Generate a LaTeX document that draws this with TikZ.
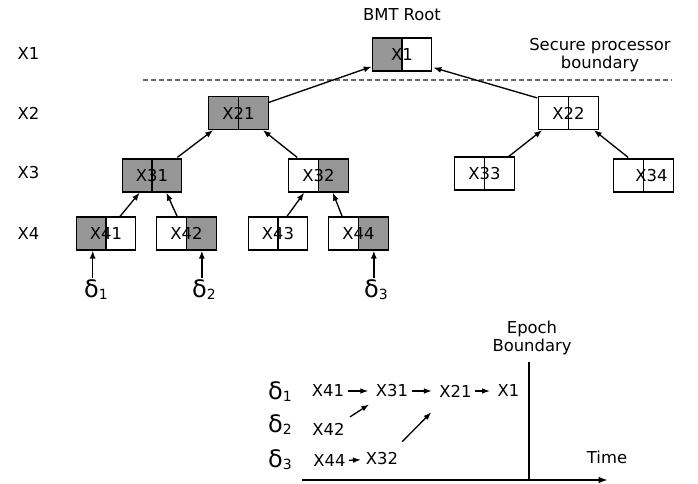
\documentclass[tikz,border=0pt]{standalone}
\usepackage{fontspec}
\setmainfont{DejaVu Sans}
\usepackage{tikz}
\usetikzlibrary{arrows.meta}
\definecolor{boxgray}{RGB}{150,150,150}
\definecolor{dashgray}{RGB}{105,105,105}

\tikzset{
  txt/.style={font=\fontsize{12.3}{14}\selectfont, inner sep=1.5pt},
  box/.style={draw, line width=0.9pt, minimum width=44.6pt, minimum height=24.75pt, inner sep=0pt, txt},
  divline/.style={line width=0.9pt},
  splitbox/.style={box, path picture={\draw[divline] (path picture bounding box.south) -- (path picture bounding box.north);}},
  lgray/.style={box, path picture={\fill[boxgray] (path picture bounding box.south west) rectangle (path picture bounding box.north);
      \draw[divline] (path picture bounding box.south) -- (path picture bounding box.north);}},
  rgray/.style={box, path picture={\fill[boxgray] (path picture bounding box.south) rectangle (path picture bounding box.north east);
      \draw[divline] (path picture bounding box.south) -- (path picture bounding box.north);}},
  bgray/.style={box, fill=boxgray, path picture={\draw[divline] (path picture bounding box.south) -- (path picture bounding box.north);}},
  arr/.style={-{Latex[length=6pt,width=4.5pt]}, line width=1pt},
  sarr/.style={-{Latex[length=6pt,width=4.2pt]}, line width=1pt, shorten >=4pt, shorten <=1pt},
  delta/.style={font=\fontsize{18}{20}\selectfont, inner sep=1pt}
}
\newcommand{\dsub}[1]{δ\raisebox{-0.15ex}{\fontsize{10.5}{12}\selectfont #1}}

\begin{document}
\begin{tikzpicture}[x=0.75pt,y=-0.75pt]
\useasboundingbox (0,0) rectangle (698,483);

% level labels
\node[txt] (L1) at (28.5,54) {X1};
\node[txt] (L2) at (28.5,113) {X2};
\node[txt] (L3) at (28.5,173) {X3};
\node[txt] (L4) at (28.5,234) {X4};

% processor boundary
\draw[dashgray, line width=1.2pt, dash pattern=on 3.75pt off 2.25pt] (143,80) -- (672,80);
\node[txt] (root) at (402,15) {BMT Root};
\node[txt, align=center] (spb) at (600,55) {Secure processor\\boundary};

% tree nodes
\node[lgray] (X1) at (402,54.5) {X1};
\node[bgray] (X21) at (238.5,113) {X21};
\node[splitbox] (X22) at (568.5,113) {X22};
\node[bgray] (X31) at (152,175.5) {X31};
\node[rgray] (X32) at (318.5,175.5) {X32};
\node[splitbox] (X33) at (484.5,173.5) {X33};
\node[splitbox] (X34) at (643.5,175.5) {\hspace*{12pt}X34};
\node[lgray] (X41) at (106,233.5) {X41};
\node[rgray] (X42) at (186.5,233.5) {\raisebox{-3pt}{X42}};
\node[splitbox] (X43) at (278,233.5) {X43};
\node[rgray] (X44) at (358.5,233.5) {X44};

% tree edges
\draw[arr] ([shift={(0,6.5)}]X21.north east) -- ([shift={(0,-5)}]X1.south west);
\draw[arr] ([shift={(-1,2)}]X22.north west) -- ([shift={(1,-4)}]X1.south east);
\draw[arr] ([shift={(-5,-1)}]X31.north east) -- ([shift={(5,0)}]X21.south west);
\draw[arr] ([shift={(9,-1)}]X32.north west) -- ([shift={(-6,0)}]X21.south east);
\draw[arr] ([shift={(-6,0)}]X33.north east) -- ([shift={(4,0)}]X22.south west);
\draw[arr] ([shift={(15,-1)}]X34.north west) -- ([shift={(-5,0)}]X22.south east);
\draw[arr] ([shift={(14,0)}]X41.north) -- ([shift={(18,0)}]X31.south west);
\draw[arr] ([shift={(21,0)}]X42.north west) -- ([shift={(-16,0)}]X31.south east);
\draw[arr] ([shift={(9,0)}]X43.north) -- ([shift={(16,0)}]X32.south west);
\draw[arr] ([shift={(14,0)}]X44.north west) -- ([shift={(-16,0)}]X32.south east);

% updates
\node[delta, anchor=north] (d1) at (96,278) {\dsub{1}};
\node[delta, anchor=north] (d2) at (204,278) {\dsub{2}};
\node[delta, anchor=north] (d3) at (376,278) {\dsub{3}};
\coordinate (t1) at ([shift={(17,0)}]X41.south west);
\coordinate (t2) at ([shift={(-15,0)}]X42.south east);
\coordinate (t3) at ([shift={(-15,0)}]X44.south east);
\draw[arr] (d1.north -| t1) -- (t1);
\draw[arr] (d2.north -| t2) -- (t2);
\draw[arr] (d3.north -| t3) -- (t3);

% timeline
\node[delta] (e1) at (280,392) {\dsub{1}};
\node[delta] (e2) at (280,425) {\dsub{2}};
\node[delta] (e3) at (280,460) {\dsub{3}};
\node[txt] (b41) at (328,391) {X41};
\node[txt] (b31) at (392,391) {X31};
\node[txt] (b21) at (455.5,391) {X21};
\node[txt] (b1) at (508.5,391) {X1};
\node[txt] (b42) at (328.5,429) {X42};
\node[txt] (b44) at (329.5,461) {X44};
\node[txt] (b32) at (382,459) {X32};
\draw[sarr] (b41) -- (b31);
\draw[sarr] (b31) -- (b21);
\draw[sarr] (b21) -- (b1);
\draw[sarr] ([shift={(2,-3)}]b42.north east) -- ([shift={(0,2)}]b31.south west);
\draw[sarr, shorten >=2pt] (b44) -- (b32);
\draw[sarr] ([shift={(1,-8)}]b32.north east) -- ([shift={(-2,9)}]b21.south west);

\node[txt, align=center] (eb) at (532,338) {Epoch\\Boundary};
\node[txt] (time) at (607,457) {Time};
\coordinate (ebot) at (529,480);
\coordinate (tstart) at (302,480);
\coordinate (tend) at (608,480);
\draw[line width=1.1pt] ([yshift=-3pt]ebot |- eb.south) -- (ebot);
\draw[line width=1.5pt, -{Latex[length=7pt,width=5pt]}] (tstart) -- (tend);
\end{tikzpicture}
\end{document}
